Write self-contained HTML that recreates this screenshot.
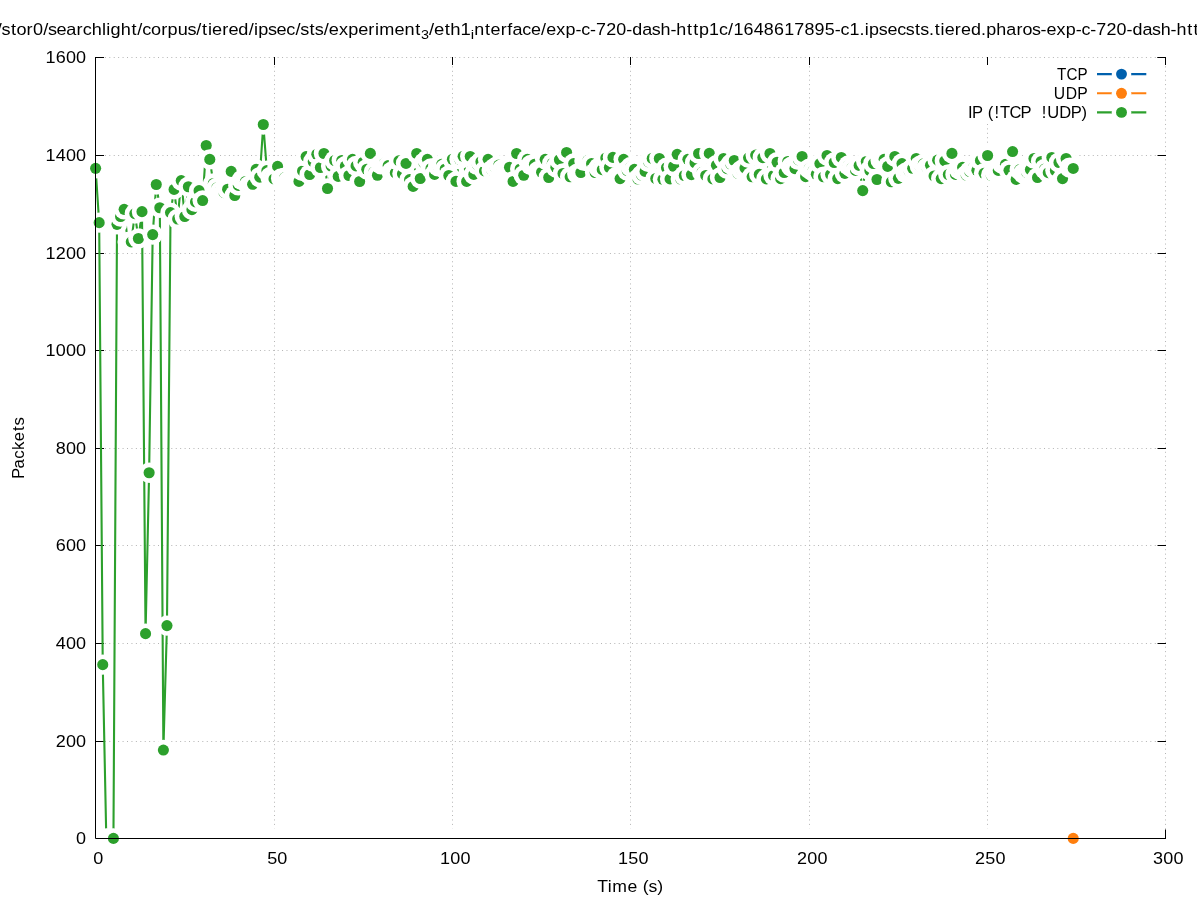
<!DOCTYPE html>
<html><head><meta charset="utf-8"><title>Packets over time</title>
<style>html,body{margin:0;padding:0;background:#fff}svg{display:block;will-change:transform}text{font-family:"Liberation Sans",sans-serif;white-space:pre}</style></head><body>
<svg width="1197" height="900" viewBox="0 0 1197 900">
<rect width="1197" height="900" fill="#fff"/>
<path d="M96 838.5H1165.5 M96 741.5H1165.5 M96 643.5H1165.5 M96 545.5H1165.5 M96 448.5H1165.5 M96 350.5H1165.5 M96 253.5H1165.5 M96 155.5H1165.5 M96 57.5H1165.5 M274.5 57.5V838 M452.5 57.5V838 M630.5 57.5V838 M809.5 57.5V838 M987.5 57.5V838 M1165.5 57.5V838" fill="none" stroke="#b4b4b4" stroke-width="1" stroke-dasharray="1 3.43"/>
<path d="M95 838.5H104 M1166 838.5H1157.5 M95 741.5H104 M1166 741.5H1157.5 M95 643.5H104 M1166 643.5H1157.5 M95 545.5H104 M1166 545.5H1157.5 M95 448.5H104 M1166 448.5H1157.5 M95 350.5H104 M1166 350.5H1157.5 M95 253.5H104 M1166 253.5H1157.5 M95 155.5H104 M1166 155.5H1157.5 M95 57.5H104 M1166 57.5H1157.5 M95.5 838.5V829.5 M95.5 57V65 M274.5 838.5V829.5 M274.5 57V65 M452.5 838.5V829.5 M452.5 57V65 M630.5 838.5V829.5 M630.5 57V65 M809.5 838.5V829.5 M809.5 57V65 M987.5 838.5V829.5 M987.5 57V65 M1165.5 838.5V829.5 M1165.5 57V65" fill="none" stroke="#000" stroke-width="1"/>
<g fill="#fff">
<circle cx="95.60" cy="838.40" r="10.2"/><circle cx="99.17" cy="838.40" r="10.2"/><circle cx="102.74" cy="838.40" r="10.2"/><circle cx="106.30" cy="838.40" r="10.2"/><circle cx="109.87" cy="838.40" r="10.2"/><circle cx="113.44" cy="838.40" r="10.2"/><circle cx="117.01" cy="838.40" r="10.2"/><circle cx="120.58" cy="838.40" r="10.2"/><circle cx="124.14" cy="838.40" r="10.2"/><circle cx="127.71" cy="838.40" r="10.2"/><circle cx="131.28" cy="838.40" r="10.2"/><circle cx="134.85" cy="838.40" r="10.2"/><circle cx="138.42" cy="838.40" r="10.2"/><circle cx="141.98" cy="838.40" r="10.2"/><circle cx="145.55" cy="838.40" r="10.2"/><circle cx="149.12" cy="838.40" r="10.2"/><circle cx="152.69" cy="838.40" r="10.2"/><circle cx="156.26" cy="838.40" r="10.2"/><circle cx="159.82" cy="838.40" r="10.2"/><circle cx="163.39" cy="838.40" r="10.2"/><circle cx="166.96" cy="838.40" r="10.2"/><circle cx="170.53" cy="838.40" r="10.2"/><circle cx="174.10" cy="838.40" r="10.2"/><circle cx="177.66" cy="838.40" r="10.2"/><circle cx="181.23" cy="838.40" r="10.2"/><circle cx="184.80" cy="838.40" r="10.2"/><circle cx="188.37" cy="838.40" r="10.2"/><circle cx="191.94" cy="838.40" r="10.2"/><circle cx="195.50" cy="838.40" r="10.2"/><circle cx="199.07" cy="838.40" r="10.2"/><circle cx="202.64" cy="838.40" r="10.2"/><circle cx="206.21" cy="838.40" r="10.2"/><circle cx="209.78" cy="838.40" r="10.2"/><circle cx="213.34" cy="838.40" r="10.2"/><circle cx="216.91" cy="838.40" r="10.2"/><circle cx="220.48" cy="838.40" r="10.2"/><circle cx="224.05" cy="838.40" r="10.2"/><circle cx="227.62" cy="838.40" r="10.2"/><circle cx="231.18" cy="838.40" r="10.2"/><circle cx="234.75" cy="838.40" r="10.2"/><circle cx="238.32" cy="838.40" r="10.2"/><circle cx="241.89" cy="838.40" r="10.2"/><circle cx="245.46" cy="838.40" r="10.2"/><circle cx="249.02" cy="838.40" r="10.2"/><circle cx="252.59" cy="838.40" r="10.2"/><circle cx="256.16" cy="838.40" r="10.2"/><circle cx="259.73" cy="838.40" r="10.2"/><circle cx="263.30" cy="838.40" r="10.2"/><circle cx="266.86" cy="838.40" r="10.2"/><circle cx="270.43" cy="838.40" r="10.2"/><circle cx="274.00" cy="838.40" r="10.2"/><circle cx="277.57" cy="838.40" r="10.2"/><circle cx="281.14" cy="838.40" r="10.2"/><circle cx="284.70" cy="838.40" r="10.2"/><circle cx="288.27" cy="838.40" r="10.2"/><circle cx="291.84" cy="838.40" r="10.2"/><circle cx="295.41" cy="838.40" r="10.2"/><circle cx="298.98" cy="838.40" r="10.2"/><circle cx="302.54" cy="838.40" r="10.2"/><circle cx="306.11" cy="838.40" r="10.2"/><circle cx="309.68" cy="838.40" r="10.2"/><circle cx="313.25" cy="838.40" r="10.2"/><circle cx="316.82" cy="838.40" r="10.2"/><circle cx="320.38" cy="838.40" r="10.2"/><circle cx="323.95" cy="838.40" r="10.2"/><circle cx="327.52" cy="838.40" r="10.2"/><circle cx="331.09" cy="838.40" r="10.2"/><circle cx="334.66" cy="838.40" r="10.2"/><circle cx="338.22" cy="838.40" r="10.2"/><circle cx="341.79" cy="838.40" r="10.2"/><circle cx="345.36" cy="838.40" r="10.2"/><circle cx="348.93" cy="838.40" r="10.2"/><circle cx="352.50" cy="838.40" r="10.2"/><circle cx="356.06" cy="838.40" r="10.2"/><circle cx="359.63" cy="838.40" r="10.2"/><circle cx="363.20" cy="838.40" r="10.2"/><circle cx="366.77" cy="838.40" r="10.2"/><circle cx="370.34" cy="838.40" r="10.2"/><circle cx="373.90" cy="838.40" r="10.2"/><circle cx="377.47" cy="838.40" r="10.2"/><circle cx="381.04" cy="838.40" r="10.2"/><circle cx="384.61" cy="838.40" r="10.2"/><circle cx="388.18" cy="838.40" r="10.2"/><circle cx="391.74" cy="838.40" r="10.2"/><circle cx="395.31" cy="838.40" r="10.2"/><circle cx="398.88" cy="838.40" r="10.2"/><circle cx="402.45" cy="838.40" r="10.2"/><circle cx="406.02" cy="838.40" r="10.2"/><circle cx="409.58" cy="838.40" r="10.2"/><circle cx="413.15" cy="838.40" r="10.2"/><circle cx="416.72" cy="838.40" r="10.2"/><circle cx="420.29" cy="838.40" r="10.2"/><circle cx="423.86" cy="838.40" r="10.2"/><circle cx="427.42" cy="838.40" r="10.2"/><circle cx="430.99" cy="838.40" r="10.2"/><circle cx="434.56" cy="838.40" r="10.2"/><circle cx="438.13" cy="838.40" r="10.2"/><circle cx="441.70" cy="838.40" r="10.2"/><circle cx="445.26" cy="838.40" r="10.2"/><circle cx="448.83" cy="838.40" r="10.2"/><circle cx="452.40" cy="838.40" r="10.2"/><circle cx="455.97" cy="838.40" r="10.2"/><circle cx="459.54" cy="838.40" r="10.2"/><circle cx="463.10" cy="838.40" r="10.2"/><circle cx="466.67" cy="838.40" r="10.2"/><circle cx="470.24" cy="838.40" r="10.2"/><circle cx="473.81" cy="838.40" r="10.2"/><circle cx="477.38" cy="838.40" r="10.2"/><circle cx="480.94" cy="838.40" r="10.2"/><circle cx="484.51" cy="838.40" r="10.2"/><circle cx="488.08" cy="838.40" r="10.2"/><circle cx="491.65" cy="838.40" r="10.2"/><circle cx="495.22" cy="838.40" r="10.2"/><circle cx="498.78" cy="838.40" r="10.2"/><circle cx="502.35" cy="838.40" r="10.2"/><circle cx="505.92" cy="838.40" r="10.2"/><circle cx="509.49" cy="838.40" r="10.2"/><circle cx="513.06" cy="838.40" r="10.2"/><circle cx="516.62" cy="838.40" r="10.2"/><circle cx="520.19" cy="838.40" r="10.2"/><circle cx="523.76" cy="838.40" r="10.2"/><circle cx="527.33" cy="838.40" r="10.2"/><circle cx="530.90" cy="838.40" r="10.2"/><circle cx="534.46" cy="838.40" r="10.2"/><circle cx="538.03" cy="838.40" r="10.2"/><circle cx="541.60" cy="838.40" r="10.2"/><circle cx="545.17" cy="838.40" r="10.2"/><circle cx="548.74" cy="838.40" r="10.2"/><circle cx="552.30" cy="838.40" r="10.2"/><circle cx="555.87" cy="838.40" r="10.2"/><circle cx="559.44" cy="838.40" r="10.2"/><circle cx="563.01" cy="838.40" r="10.2"/><circle cx="566.58" cy="838.40" r="10.2"/><circle cx="570.14" cy="838.40" r="10.2"/><circle cx="573.71" cy="838.40" r="10.2"/><circle cx="577.28" cy="838.40" r="10.2"/><circle cx="580.85" cy="838.40" r="10.2"/><circle cx="584.42" cy="838.40" r="10.2"/><circle cx="587.98" cy="838.40" r="10.2"/><circle cx="591.55" cy="838.40" r="10.2"/><circle cx="595.12" cy="838.40" r="10.2"/><circle cx="598.69" cy="838.40" r="10.2"/><circle cx="602.26" cy="838.40" r="10.2"/><circle cx="605.82" cy="838.40" r="10.2"/><circle cx="609.39" cy="838.40" r="10.2"/><circle cx="612.96" cy="838.40" r="10.2"/><circle cx="616.53" cy="838.40" r="10.2"/><circle cx="620.10" cy="838.40" r="10.2"/><circle cx="623.66" cy="838.40" r="10.2"/><circle cx="627.23" cy="838.40" r="10.2"/><circle cx="630.80" cy="838.40" r="10.2"/><circle cx="634.37" cy="838.40" r="10.2"/><circle cx="637.94" cy="838.40" r="10.2"/><circle cx="641.50" cy="838.40" r="10.2"/><circle cx="645.07" cy="838.40" r="10.2"/><circle cx="648.64" cy="838.40" r="10.2"/><circle cx="652.21" cy="838.40" r="10.2"/><circle cx="655.78" cy="838.40" r="10.2"/><circle cx="659.34" cy="838.40" r="10.2"/><circle cx="662.91" cy="838.40" r="10.2"/><circle cx="666.48" cy="838.40" r="10.2"/><circle cx="670.05" cy="838.40" r="10.2"/><circle cx="673.62" cy="838.40" r="10.2"/><circle cx="677.18" cy="838.40" r="10.2"/><circle cx="680.75" cy="838.40" r="10.2"/><circle cx="684.32" cy="838.40" r="10.2"/><circle cx="687.89" cy="838.40" r="10.2"/><circle cx="691.46" cy="838.40" r="10.2"/><circle cx="695.02" cy="838.40" r="10.2"/><circle cx="698.59" cy="838.40" r="10.2"/><circle cx="702.16" cy="838.40" r="10.2"/><circle cx="705.73" cy="838.40" r="10.2"/><circle cx="709.30" cy="838.40" r="10.2"/><circle cx="712.86" cy="838.40" r="10.2"/><circle cx="716.43" cy="838.40" r="10.2"/><circle cx="720.00" cy="838.40" r="10.2"/><circle cx="723.57" cy="838.40" r="10.2"/><circle cx="727.14" cy="838.40" r="10.2"/><circle cx="730.70" cy="838.40" r="10.2"/><circle cx="734.27" cy="838.40" r="10.2"/><circle cx="737.84" cy="838.40" r="10.2"/><circle cx="741.41" cy="838.40" r="10.2"/><circle cx="744.98" cy="838.40" r="10.2"/><circle cx="748.54" cy="838.40" r="10.2"/><circle cx="752.11" cy="838.40" r="10.2"/><circle cx="755.68" cy="838.40" r="10.2"/><circle cx="759.25" cy="838.40" r="10.2"/><circle cx="762.82" cy="838.40" r="10.2"/><circle cx="766.38" cy="838.40" r="10.2"/><circle cx="769.95" cy="838.40" r="10.2"/><circle cx="773.52" cy="838.40" r="10.2"/><circle cx="777.09" cy="838.40" r="10.2"/><circle cx="780.66" cy="838.40" r="10.2"/><circle cx="784.22" cy="838.40" r="10.2"/><circle cx="787.79" cy="838.40" r="10.2"/><circle cx="791.36" cy="838.40" r="10.2"/><circle cx="794.93" cy="838.40" r="10.2"/><circle cx="798.50" cy="838.40" r="10.2"/><circle cx="802.06" cy="838.40" r="10.2"/><circle cx="805.63" cy="838.40" r="10.2"/><circle cx="809.20" cy="838.40" r="10.2"/><circle cx="812.77" cy="838.40" r="10.2"/><circle cx="816.34" cy="838.40" r="10.2"/><circle cx="819.90" cy="838.40" r="10.2"/><circle cx="823.47" cy="838.40" r="10.2"/><circle cx="827.04" cy="838.40" r="10.2"/><circle cx="830.61" cy="838.40" r="10.2"/><circle cx="834.18" cy="838.40" r="10.2"/><circle cx="837.74" cy="838.40" r="10.2"/><circle cx="841.31" cy="838.40" r="10.2"/><circle cx="844.88" cy="838.40" r="10.2"/><circle cx="848.45" cy="838.40" r="10.2"/><circle cx="852.02" cy="838.40" r="10.2"/><circle cx="855.58" cy="838.40" r="10.2"/><circle cx="859.15" cy="838.40" r="10.2"/><circle cx="862.72" cy="838.40" r="10.2"/><circle cx="866.29" cy="838.40" r="10.2"/><circle cx="869.86" cy="838.40" r="10.2"/><circle cx="873.42" cy="838.40" r="10.2"/><circle cx="876.99" cy="838.40" r="10.2"/><circle cx="880.56" cy="838.40" r="10.2"/><circle cx="884.13" cy="838.40" r="10.2"/><circle cx="887.70" cy="838.40" r="10.2"/><circle cx="891.26" cy="838.40" r="10.2"/><circle cx="894.83" cy="838.40" r="10.2"/><circle cx="898.40" cy="838.40" r="10.2"/><circle cx="901.97" cy="838.40" r="10.2"/><circle cx="905.54" cy="838.40" r="10.2"/><circle cx="909.10" cy="838.40" r="10.2"/><circle cx="912.67" cy="838.40" r="10.2"/><circle cx="916.24" cy="838.40" r="10.2"/><circle cx="919.81" cy="838.40" r="10.2"/><circle cx="923.38" cy="838.40" r="10.2"/><circle cx="926.94" cy="838.40" r="10.2"/><circle cx="930.51" cy="838.40" r="10.2"/><circle cx="934.08" cy="838.40" r="10.2"/><circle cx="937.65" cy="838.40" r="10.2"/><circle cx="941.22" cy="838.40" r="10.2"/><circle cx="944.78" cy="838.40" r="10.2"/><circle cx="948.35" cy="838.40" r="10.2"/><circle cx="951.92" cy="838.40" r="10.2"/><circle cx="955.49" cy="838.40" r="10.2"/><circle cx="959.06" cy="838.40" r="10.2"/><circle cx="962.62" cy="838.40" r="10.2"/><circle cx="966.19" cy="838.40" r="10.2"/><circle cx="969.76" cy="838.40" r="10.2"/><circle cx="973.33" cy="838.40" r="10.2"/><circle cx="976.90" cy="838.40" r="10.2"/><circle cx="980.46" cy="838.40" r="10.2"/><circle cx="984.03" cy="838.40" r="10.2"/><circle cx="987.60" cy="838.40" r="10.2"/><circle cx="991.17" cy="838.40" r="10.2"/><circle cx="994.74" cy="838.40" r="10.2"/><circle cx="998.30" cy="838.40" r="10.2"/><circle cx="1001.87" cy="838.40" r="10.2"/><circle cx="1005.44" cy="838.40" r="10.2"/><circle cx="1009.01" cy="838.40" r="10.2"/><circle cx="1012.58" cy="838.40" r="10.2"/><circle cx="1016.14" cy="838.40" r="10.2"/><circle cx="1019.71" cy="838.40" r="10.2"/><circle cx="1023.28" cy="838.40" r="10.2"/><circle cx="1026.85" cy="838.40" r="10.2"/><circle cx="1030.42" cy="838.40" r="10.2"/><circle cx="1033.98" cy="838.40" r="10.2"/><circle cx="1037.55" cy="838.40" r="10.2"/><circle cx="1041.12" cy="838.40" r="10.2"/><circle cx="1044.69" cy="838.40" r="10.2"/><circle cx="1048.26" cy="838.40" r="10.2"/><circle cx="1051.82" cy="838.40" r="10.2"/><circle cx="1055.39" cy="838.40" r="10.2"/><circle cx="1058.96" cy="838.40" r="10.2"/><circle cx="1062.53" cy="838.40" r="10.2"/><circle cx="1066.10" cy="838.40" r="10.2"/><circle cx="1069.66" cy="838.40" r="10.2"/><circle cx="1073.23" cy="838.40" r="10.2"/>
</g>
<circle cx="1073.23" cy="838.40" r="5.55" fill="#ff7f0e"/>
<polyline points="95.60,168.35 99.17,222.63 102.74,664.63 106.30,838.40 109.87,838.40 113.44,838.40 117.01,224.34 120.58,216.53 124.14,209.35 127.71,241.91 131.28,241.91 134.85,213.60 138.42,238.49 141.98,211.65 145.55,633.63 149.12,472.79 152.69,234.59 156.26,184.46 159.82,207.74 163.39,750.05 166.96,625.58 170.53,212.62 174.10,189.39 177.66,218.97 181.23,180.60 184.80,216.53 188.37,186.75 191.94,209.70 195.50,201.88 199.07,190.66 202.64,200.57 206.21,145.51 209.78,159.42 213.34,183.48 216.91,187.73 220.48,191.15 224.05,192.61 227.62,189.19 231.18,171.38 234.75,195.54 238.32,185.39 241.89,180.07 245.46,181.48 249.02,185.78 252.59,184.31 256.16,169.38 259.73,177.19 263.30,124.47 266.86,170.64 270.43,176.99 274.00,178.94 277.57,166.40 281.14,178.47 284.70,177.59 288.27,181.06 291.84,181.81 295.41,181.64 298.98,181.43 302.54,170.95 306.11,156.62 309.68,174.54 313.25,161.76 316.82,154.24 320.38,167.52 323.95,153.53 327.52,188.49 331.09,166.07 334.66,160.51 338.22,176.38 341.79,160.46 345.36,166.10 348.93,175.54 352.50,159.37 356.06,165.94 359.63,181.47 363.20,162.26 366.77,169.28 370.34,153.40 373.90,171.95 377.47,175.26 381.04,164.26 384.61,163.10 388.18,165.63 391.74,171.78 395.31,172.87 398.88,160.92 402.45,173.87 406.02,163.43 409.58,179.67 413.15,186.45 416.72,153.52 420.29,178.47 423.86,162.76 427.42,159.37 430.99,168.44 434.56,174.42 438.13,166.35 441.70,164.38 445.26,168.98 448.83,175.49 452.40,159.25 455.97,181.39 459.54,159.34 463.10,156.33 466.67,181.44 470.24,156.45 473.81,174.42 477.38,164.93 480.94,161.76 484.51,170.95 488.08,159.37 491.65,170.11 495.22,167.44 498.78,165.10 502.35,169.19 505.92,168.02 509.49,167.27 513.06,181.44 516.62,153.52 520.19,168.94 523.76,175.26 527.33,159.37 530.90,164.93 534.46,164.38 538.03,171.28 541.60,172.28 545.17,159.37 548.74,177.51 552.30,163.35 555.87,167.27 559.44,159.72 563.01,173.54 566.58,152.44 570.14,176.80 573.71,163.55 577.28,173.71 580.85,172.50 584.42,160.92 587.98,160.34 591.55,163.55 595.12,172.50 598.69,167.77 602.26,169.70 605.82,158.00 609.39,167.49 612.96,157.41 616.53,176.80 620.10,178.60 623.66,159.37 627.23,170.53 630.80,166.85 634.37,169.39 637.94,178.97 641.50,175.13 645.07,171.42 648.64,161.93 652.21,158.42 655.78,178.47 659.34,158.53 662.91,179.30 666.48,167.77 670.05,178.88 673.62,166.24 677.18,154.36 680.75,179.05 684.32,175.54 687.89,159.37 691.46,174.59 695.02,162.73 698.59,153.53 702.16,172.20 705.73,175.46 709.30,153.40 712.86,178.88 716.43,165.23 720.00,177.51 723.57,158.53 727.14,168.69 730.70,164.18 734.27,160.46 737.84,173.33 741.41,170.11 744.98,168.07 748.54,157.83 752.11,176.80 755.68,155.08 759.25,174.41 762.82,157.58 766.38,178.88 769.95,153.52 773.52,175.54 777.09,162.26 780.66,178.60 784.22,172.50 787.79,161.46 791.36,166.77 794.93,168.58 798.50,159.92 802.06,156.45 805.63,176.68 809.20,168.69 812.77,171.37 816.34,174.29 819.90,163.56 823.47,176.80 827.04,155.44 830.61,174.46 834.18,162.48 837.74,178.60 841.31,157.45 844.88,173.34 848.45,165.35 852.02,167.69 855.58,170.41 859.15,165.43 862.72,190.58 866.29,161.46 869.86,170.58 873.42,163.56 876.99,179.47 880.56,160.09 884.13,159.37 887.70,166.40 891.26,181.81 894.83,156.45 898.40,178.35 901.97,163.55 905.54,172.95 909.10,170.95 912.67,168.32 916.24,158.53 919.81,166.02 923.38,163.85 926.94,167.61 930.51,165.23 934.08,176.04 937.65,160.17 941.22,178.60 944.78,160.81 948.35,174.46 951.92,153.40 955.49,174.42 959.06,169.28 962.62,167.31 966.19,175.13 969.76,171.53 973.33,167.77 976.90,170.36 980.46,160.39 984.03,173.32 987.60,155.49 991.17,175.29 994.74,172.12 998.30,170.41 1001.87,163.43 1005.44,164.38 1009.01,170.36 1012.58,151.57 1016.14,179.44 1019.71,169.70 1023.28,173.45 1026.85,172.54 1030.42,169.58 1033.98,158.53 1037.55,177.51 1041.12,161.46 1044.69,168.94 1048.26,172.70 1051.82,157.45 1055.39,170.58 1058.96,162.48 1062.53,178.60 1066.10,158.53 1069.66,167.61 1073.23,168.44" fill="none" stroke="#2ca02c" stroke-width="2.10" stroke-linejoin="round"/>
<circle cx="95.60" cy="168.35" r="10.2" fill="#fff"/>
<circle cx="95.60" cy="168.35" r="5.55" fill="#2ca02c"/>
<circle cx="99.17" cy="222.63" r="10.2" fill="#fff"/>
<circle cx="99.17" cy="222.63" r="5.55" fill="#2ca02c"/>
<circle cx="102.74" cy="664.63" r="10.2" fill="#fff"/>
<circle cx="102.74" cy="664.63" r="5.55" fill="#2ca02c"/>
<circle cx="106.30" cy="838.40" r="10.2" fill="#fff"/>
<circle cx="109.87" cy="838.40" r="10.2" fill="#fff"/>
<circle cx="113.44" cy="838.40" r="10.2" fill="#fff"/>
<circle cx="113.44" cy="838.40" r="5.55" fill="#2ca02c"/>
<circle cx="117.01" cy="224.34" r="10.2" fill="#fff"/>
<circle cx="117.01" cy="224.34" r="5.55" fill="#2ca02c"/>
<circle cx="120.58" cy="216.53" r="10.2" fill="#fff"/>
<circle cx="120.58" cy="216.53" r="5.55" fill="#2ca02c"/>
<circle cx="124.14" cy="209.35" r="10.2" fill="#fff"/>
<circle cx="124.14" cy="209.35" r="5.55" fill="#2ca02c"/>
<circle cx="127.71" cy="241.91" r="10.2" fill="#fff"/>
<circle cx="127.71" cy="241.91" r="5.55" fill="#2ca02c"/>
<circle cx="131.28" cy="241.91" r="10.2" fill="#fff"/>
<circle cx="131.28" cy="241.91" r="5.55" fill="#2ca02c"/>
<circle cx="134.85" cy="213.60" r="10.2" fill="#fff"/>
<circle cx="134.85" cy="213.60" r="5.55" fill="#2ca02c"/>
<circle cx="138.42" cy="238.49" r="10.2" fill="#fff"/>
<circle cx="138.42" cy="238.49" r="5.55" fill="#2ca02c"/>
<circle cx="141.98" cy="211.65" r="10.2" fill="#fff"/>
<circle cx="141.98" cy="211.65" r="5.55" fill="#2ca02c"/>
<circle cx="145.55" cy="633.63" r="10.2" fill="#fff"/>
<circle cx="145.55" cy="633.63" r="5.55" fill="#2ca02c"/>
<circle cx="149.12" cy="472.79" r="10.2" fill="#fff"/>
<circle cx="149.12" cy="472.79" r="5.55" fill="#2ca02c"/>
<circle cx="152.69" cy="234.59" r="10.2" fill="#fff"/>
<circle cx="152.69" cy="234.59" r="5.55" fill="#2ca02c"/>
<circle cx="156.26" cy="184.46" r="10.2" fill="#fff"/>
<circle cx="156.26" cy="184.46" r="5.55" fill="#2ca02c"/>
<circle cx="159.82" cy="207.74" r="10.2" fill="#fff"/>
<circle cx="159.82" cy="207.74" r="5.55" fill="#2ca02c"/>
<circle cx="163.39" cy="750.05" r="10.2" fill="#fff"/>
<circle cx="163.39" cy="750.05" r="5.55" fill="#2ca02c"/>
<circle cx="166.96" cy="625.58" r="10.2" fill="#fff"/>
<circle cx="166.96" cy="625.58" r="5.55" fill="#2ca02c"/>
<circle cx="170.53" cy="212.62" r="10.2" fill="#fff"/>
<circle cx="170.53" cy="212.62" r="5.55" fill="#2ca02c"/>
<circle cx="174.10" cy="189.39" r="10.2" fill="#fff"/>
<circle cx="174.10" cy="189.39" r="5.55" fill="#2ca02c"/>
<circle cx="177.66" cy="218.97" r="10.2" fill="#fff"/>
<circle cx="177.66" cy="218.97" r="5.55" fill="#2ca02c"/>
<circle cx="181.23" cy="180.60" r="10.2" fill="#fff"/>
<circle cx="181.23" cy="180.60" r="5.55" fill="#2ca02c"/>
<circle cx="184.80" cy="216.53" r="10.2" fill="#fff"/>
<circle cx="184.80" cy="216.53" r="5.55" fill="#2ca02c"/>
<circle cx="188.37" cy="186.75" r="10.2" fill="#fff"/>
<circle cx="188.37" cy="186.75" r="5.55" fill="#2ca02c"/>
<circle cx="191.94" cy="209.70" r="10.2" fill="#fff"/>
<circle cx="191.94" cy="209.70" r="5.55" fill="#2ca02c"/>
<circle cx="195.50" cy="201.88" r="10.2" fill="#fff"/>
<circle cx="195.50" cy="201.88" r="5.55" fill="#2ca02c"/>
<circle cx="199.07" cy="190.66" r="10.2" fill="#fff"/>
<circle cx="199.07" cy="190.66" r="5.55" fill="#2ca02c"/>
<circle cx="202.64" cy="200.57" r="10.2" fill="#fff"/>
<circle cx="202.64" cy="200.57" r="5.55" fill="#2ca02c"/>
<circle cx="206.21" cy="145.51" r="10.2" fill="#fff"/>
<circle cx="206.21" cy="145.51" r="5.55" fill="#2ca02c"/>
<circle cx="209.78" cy="159.42" r="10.2" fill="#fff"/>
<circle cx="209.78" cy="159.42" r="5.55" fill="#2ca02c"/>
<circle cx="213.34" cy="183.48" r="10.2" fill="#fff"/>
<circle cx="213.34" cy="183.48" r="5.55" fill="#2ca02c"/>
<circle cx="216.91" cy="187.73" r="10.2" fill="#fff"/>
<circle cx="216.91" cy="187.73" r="5.55" fill="#2ca02c"/>
<circle cx="220.48" cy="191.15" r="10.2" fill="#fff"/>
<circle cx="220.48" cy="191.15" r="5.55" fill="#2ca02c"/>
<circle cx="224.05" cy="192.61" r="10.2" fill="#fff"/>
<circle cx="224.05" cy="192.61" r="5.55" fill="#2ca02c"/>
<circle cx="227.62" cy="189.19" r="10.2" fill="#fff"/>
<circle cx="227.62" cy="189.19" r="5.55" fill="#2ca02c"/>
<circle cx="231.18" cy="171.38" r="10.2" fill="#fff"/>
<circle cx="231.18" cy="171.38" r="5.55" fill="#2ca02c"/>
<circle cx="234.75" cy="195.54" r="10.2" fill="#fff"/>
<circle cx="234.75" cy="195.54" r="5.55" fill="#2ca02c"/>
<circle cx="238.32" cy="185.39" r="10.2" fill="#fff"/>
<circle cx="238.32" cy="185.39" r="5.55" fill="#2ca02c"/>
<circle cx="241.89" cy="180.07" r="10.2" fill="#fff"/>
<circle cx="241.89" cy="180.07" r="5.55" fill="#2ca02c"/>
<circle cx="245.46" cy="181.48" r="10.2" fill="#fff"/>
<circle cx="245.46" cy="181.48" r="5.55" fill="#2ca02c"/>
<circle cx="249.02" cy="185.78" r="10.2" fill="#fff"/>
<circle cx="249.02" cy="185.78" r="5.55" fill="#2ca02c"/>
<circle cx="252.59" cy="184.31" r="10.2" fill="#fff"/>
<circle cx="252.59" cy="184.31" r="5.55" fill="#2ca02c"/>
<circle cx="256.16" cy="169.38" r="10.2" fill="#fff"/>
<circle cx="256.16" cy="169.38" r="5.55" fill="#2ca02c"/>
<circle cx="259.73" cy="177.19" r="10.2" fill="#fff"/>
<circle cx="259.73" cy="177.19" r="5.55" fill="#2ca02c"/>
<circle cx="263.30" cy="124.47" r="10.2" fill="#fff"/>
<circle cx="263.30" cy="124.47" r="5.55" fill="#2ca02c"/>
<circle cx="266.86" cy="170.64" r="10.2" fill="#fff"/>
<circle cx="266.86" cy="170.64" r="5.55" fill="#2ca02c"/>
<circle cx="270.43" cy="176.99" r="10.2" fill="#fff"/>
<circle cx="270.43" cy="176.99" r="5.55" fill="#2ca02c"/>
<circle cx="274.00" cy="178.94" r="10.2" fill="#fff"/>
<circle cx="274.00" cy="178.94" r="5.55" fill="#2ca02c"/>
<circle cx="277.57" cy="166.40" r="10.2" fill="#fff"/>
<circle cx="277.57" cy="166.40" r="5.55" fill="#2ca02c"/>
<circle cx="281.14" cy="178.47" r="10.2" fill="#fff"/>
<circle cx="281.14" cy="178.47" r="5.55" fill="#2ca02c"/>
<circle cx="284.70" cy="177.59" r="10.2" fill="#fff"/>
<circle cx="284.70" cy="177.59" r="5.55" fill="#2ca02c"/>
<circle cx="288.27" cy="181.06" r="10.2" fill="#fff"/>
<circle cx="288.27" cy="181.06" r="5.55" fill="#2ca02c"/>
<circle cx="291.84" cy="181.81" r="10.2" fill="#fff"/>
<circle cx="291.84" cy="181.81" r="5.55" fill="#2ca02c"/>
<circle cx="295.41" cy="181.64" r="10.2" fill="#fff"/>
<circle cx="295.41" cy="181.64" r="5.55" fill="#2ca02c"/>
<circle cx="298.98" cy="181.43" r="10.2" fill="#fff"/>
<circle cx="298.98" cy="181.43" r="5.55" fill="#2ca02c"/>
<circle cx="302.54" cy="170.95" r="10.2" fill="#fff"/>
<circle cx="302.54" cy="170.95" r="5.55" fill="#2ca02c"/>
<circle cx="306.11" cy="156.62" r="10.2" fill="#fff"/>
<circle cx="306.11" cy="156.62" r="5.55" fill="#2ca02c"/>
<circle cx="309.68" cy="174.54" r="10.2" fill="#fff"/>
<circle cx="309.68" cy="174.54" r="5.55" fill="#2ca02c"/>
<circle cx="313.25" cy="161.76" r="10.2" fill="#fff"/>
<circle cx="313.25" cy="161.76" r="5.55" fill="#2ca02c"/>
<circle cx="316.82" cy="154.24" r="10.2" fill="#fff"/>
<circle cx="316.82" cy="154.24" r="5.55" fill="#2ca02c"/>
<circle cx="320.38" cy="167.52" r="10.2" fill="#fff"/>
<circle cx="320.38" cy="167.52" r="5.55" fill="#2ca02c"/>
<circle cx="323.95" cy="153.53" r="10.2" fill="#fff"/>
<circle cx="323.95" cy="153.53" r="5.55" fill="#2ca02c"/>
<circle cx="327.52" cy="188.49" r="10.2" fill="#fff"/>
<circle cx="327.52" cy="188.49" r="5.55" fill="#2ca02c"/>
<circle cx="331.09" cy="166.07" r="10.2" fill="#fff"/>
<circle cx="331.09" cy="166.07" r="5.55" fill="#2ca02c"/>
<circle cx="334.66" cy="160.51" r="10.2" fill="#fff"/>
<circle cx="334.66" cy="160.51" r="5.55" fill="#2ca02c"/>
<circle cx="338.22" cy="176.38" r="10.2" fill="#fff"/>
<circle cx="338.22" cy="176.38" r="5.55" fill="#2ca02c"/>
<circle cx="341.79" cy="160.46" r="10.2" fill="#fff"/>
<circle cx="341.79" cy="160.46" r="5.55" fill="#2ca02c"/>
<circle cx="345.36" cy="166.10" r="10.2" fill="#fff"/>
<circle cx="345.36" cy="166.10" r="5.55" fill="#2ca02c"/>
<circle cx="348.93" cy="175.54" r="10.2" fill="#fff"/>
<circle cx="348.93" cy="175.54" r="5.55" fill="#2ca02c"/>
<circle cx="352.50" cy="159.37" r="10.2" fill="#fff"/>
<circle cx="352.50" cy="159.37" r="5.55" fill="#2ca02c"/>
<circle cx="356.06" cy="165.94" r="10.2" fill="#fff"/>
<circle cx="356.06" cy="165.94" r="5.55" fill="#2ca02c"/>
<circle cx="359.63" cy="181.47" r="10.2" fill="#fff"/>
<circle cx="359.63" cy="181.47" r="5.55" fill="#2ca02c"/>
<circle cx="363.20" cy="162.26" r="10.2" fill="#fff"/>
<circle cx="363.20" cy="162.26" r="5.55" fill="#2ca02c"/>
<circle cx="366.77" cy="169.28" r="10.2" fill="#fff"/>
<circle cx="366.77" cy="169.28" r="5.55" fill="#2ca02c"/>
<circle cx="370.34" cy="153.40" r="10.2" fill="#fff"/>
<circle cx="370.34" cy="153.40" r="5.55" fill="#2ca02c"/>
<circle cx="373.90" cy="171.95" r="10.2" fill="#fff"/>
<circle cx="373.90" cy="171.95" r="5.55" fill="#2ca02c"/>
<circle cx="377.47" cy="175.26" r="10.2" fill="#fff"/>
<circle cx="377.47" cy="175.26" r="5.55" fill="#2ca02c"/>
<circle cx="381.04" cy="164.26" r="10.2" fill="#fff"/>
<circle cx="381.04" cy="164.26" r="5.55" fill="#2ca02c"/>
<circle cx="384.61" cy="163.10" r="10.2" fill="#fff"/>
<circle cx="384.61" cy="163.10" r="5.55" fill="#2ca02c"/>
<circle cx="388.18" cy="165.63" r="10.2" fill="#fff"/>
<circle cx="388.18" cy="165.63" r="5.55" fill="#2ca02c"/>
<circle cx="391.74" cy="171.78" r="10.2" fill="#fff"/>
<circle cx="391.74" cy="171.78" r="5.55" fill="#2ca02c"/>
<circle cx="395.31" cy="172.87" r="10.2" fill="#fff"/>
<circle cx="395.31" cy="172.87" r="5.55" fill="#2ca02c"/>
<circle cx="398.88" cy="160.92" r="10.2" fill="#fff"/>
<circle cx="398.88" cy="160.92" r="5.55" fill="#2ca02c"/>
<circle cx="402.45" cy="173.87" r="10.2" fill="#fff"/>
<circle cx="402.45" cy="173.87" r="5.55" fill="#2ca02c"/>
<circle cx="406.02" cy="163.43" r="10.2" fill="#fff"/>
<circle cx="406.02" cy="163.43" r="5.55" fill="#2ca02c"/>
<circle cx="409.58" cy="179.67" r="10.2" fill="#fff"/>
<circle cx="409.58" cy="179.67" r="5.55" fill="#2ca02c"/>
<circle cx="413.15" cy="186.45" r="10.2" fill="#fff"/>
<circle cx="413.15" cy="186.45" r="5.55" fill="#2ca02c"/>
<circle cx="416.72" cy="153.52" r="10.2" fill="#fff"/>
<circle cx="416.72" cy="153.52" r="5.55" fill="#2ca02c"/>
<circle cx="420.29" cy="178.47" r="10.2" fill="#fff"/>
<circle cx="420.29" cy="178.47" r="5.55" fill="#2ca02c"/>
<circle cx="423.86" cy="162.76" r="10.2" fill="#fff"/>
<circle cx="423.86" cy="162.76" r="5.55" fill="#2ca02c"/>
<circle cx="427.42" cy="159.37" r="10.2" fill="#fff"/>
<circle cx="427.42" cy="159.37" r="5.55" fill="#2ca02c"/>
<circle cx="430.99" cy="168.44" r="10.2" fill="#fff"/>
<circle cx="430.99" cy="168.44" r="5.55" fill="#2ca02c"/>
<circle cx="434.56" cy="174.42" r="10.2" fill="#fff"/>
<circle cx="434.56" cy="174.42" r="5.55" fill="#2ca02c"/>
<circle cx="438.13" cy="166.35" r="10.2" fill="#fff"/>
<circle cx="438.13" cy="166.35" r="5.55" fill="#2ca02c"/>
<circle cx="441.70" cy="164.38" r="10.2" fill="#fff"/>
<circle cx="441.70" cy="164.38" r="5.55" fill="#2ca02c"/>
<circle cx="445.26" cy="168.98" r="10.2" fill="#fff"/>
<circle cx="445.26" cy="168.98" r="5.55" fill="#2ca02c"/>
<circle cx="448.83" cy="175.49" r="10.2" fill="#fff"/>
<circle cx="448.83" cy="175.49" r="5.55" fill="#2ca02c"/>
<circle cx="452.40" cy="159.25" r="10.2" fill="#fff"/>
<circle cx="452.40" cy="159.25" r="5.55" fill="#2ca02c"/>
<circle cx="455.97" cy="181.39" r="10.2" fill="#fff"/>
<circle cx="455.97" cy="181.39" r="5.55" fill="#2ca02c"/>
<circle cx="459.54" cy="159.34" r="10.2" fill="#fff"/>
<circle cx="459.54" cy="159.34" r="5.55" fill="#2ca02c"/>
<circle cx="463.10" cy="156.33" r="10.2" fill="#fff"/>
<circle cx="463.10" cy="156.33" r="5.55" fill="#2ca02c"/>
<circle cx="466.67" cy="181.44" r="10.2" fill="#fff"/>
<circle cx="466.67" cy="181.44" r="5.55" fill="#2ca02c"/>
<circle cx="470.24" cy="156.45" r="10.2" fill="#fff"/>
<circle cx="470.24" cy="156.45" r="5.55" fill="#2ca02c"/>
<circle cx="473.81" cy="174.42" r="10.2" fill="#fff"/>
<circle cx="473.81" cy="174.42" r="5.55" fill="#2ca02c"/>
<circle cx="477.38" cy="164.93" r="10.2" fill="#fff"/>
<circle cx="477.38" cy="164.93" r="5.55" fill="#2ca02c"/>
<circle cx="480.94" cy="161.76" r="10.2" fill="#fff"/>
<circle cx="480.94" cy="161.76" r="5.55" fill="#2ca02c"/>
<circle cx="484.51" cy="170.95" r="10.2" fill="#fff"/>
<circle cx="484.51" cy="170.95" r="5.55" fill="#2ca02c"/>
<circle cx="488.08" cy="159.37" r="10.2" fill="#fff"/>
<circle cx="488.08" cy="159.37" r="5.55" fill="#2ca02c"/>
<circle cx="491.65" cy="170.11" r="10.2" fill="#fff"/>
<circle cx="491.65" cy="170.11" r="5.55" fill="#2ca02c"/>
<circle cx="495.22" cy="167.44" r="10.2" fill="#fff"/>
<circle cx="495.22" cy="167.44" r="5.55" fill="#2ca02c"/>
<circle cx="498.78" cy="165.10" r="10.2" fill="#fff"/>
<circle cx="498.78" cy="165.10" r="5.55" fill="#2ca02c"/>
<circle cx="502.35" cy="169.19" r="10.2" fill="#fff"/>
<circle cx="502.35" cy="169.19" r="5.55" fill="#2ca02c"/>
<circle cx="505.92" cy="168.02" r="10.2" fill="#fff"/>
<circle cx="505.92" cy="168.02" r="5.55" fill="#2ca02c"/>
<circle cx="509.49" cy="167.27" r="10.2" fill="#fff"/>
<circle cx="509.49" cy="167.27" r="5.55" fill="#2ca02c"/>
<circle cx="513.06" cy="181.44" r="10.2" fill="#fff"/>
<circle cx="513.06" cy="181.44" r="5.55" fill="#2ca02c"/>
<circle cx="516.62" cy="153.52" r="10.2" fill="#fff"/>
<circle cx="516.62" cy="153.52" r="5.55" fill="#2ca02c"/>
<circle cx="520.19" cy="168.94" r="10.2" fill="#fff"/>
<circle cx="520.19" cy="168.94" r="5.55" fill="#2ca02c"/>
<circle cx="523.76" cy="175.26" r="10.2" fill="#fff"/>
<circle cx="523.76" cy="175.26" r="5.55" fill="#2ca02c"/>
<circle cx="527.33" cy="159.37" r="10.2" fill="#fff"/>
<circle cx="527.33" cy="159.37" r="5.55" fill="#2ca02c"/>
<circle cx="530.90" cy="164.93" r="10.2" fill="#fff"/>
<circle cx="530.90" cy="164.93" r="5.55" fill="#2ca02c"/>
<circle cx="534.46" cy="164.38" r="10.2" fill="#fff"/>
<circle cx="534.46" cy="164.38" r="5.55" fill="#2ca02c"/>
<circle cx="538.03" cy="171.28" r="10.2" fill="#fff"/>
<circle cx="538.03" cy="171.28" r="5.55" fill="#2ca02c"/>
<circle cx="541.60" cy="172.28" r="10.2" fill="#fff"/>
<circle cx="541.60" cy="172.28" r="5.55" fill="#2ca02c"/>
<circle cx="545.17" cy="159.37" r="10.2" fill="#fff"/>
<circle cx="545.17" cy="159.37" r="5.55" fill="#2ca02c"/>
<circle cx="548.74" cy="177.51" r="10.2" fill="#fff"/>
<circle cx="548.74" cy="177.51" r="5.55" fill="#2ca02c"/>
<circle cx="552.30" cy="163.35" r="10.2" fill="#fff"/>
<circle cx="552.30" cy="163.35" r="5.55" fill="#2ca02c"/>
<circle cx="555.87" cy="167.27" r="10.2" fill="#fff"/>
<circle cx="555.87" cy="167.27" r="5.55" fill="#2ca02c"/>
<circle cx="559.44" cy="159.72" r="10.2" fill="#fff"/>
<circle cx="559.44" cy="159.72" r="5.55" fill="#2ca02c"/>
<circle cx="563.01" cy="173.54" r="10.2" fill="#fff"/>
<circle cx="563.01" cy="173.54" r="5.55" fill="#2ca02c"/>
<circle cx="566.58" cy="152.44" r="10.2" fill="#fff"/>
<circle cx="566.58" cy="152.44" r="5.55" fill="#2ca02c"/>
<circle cx="570.14" cy="176.80" r="10.2" fill="#fff"/>
<circle cx="570.14" cy="176.80" r="5.55" fill="#2ca02c"/>
<circle cx="573.71" cy="163.55" r="10.2" fill="#fff"/>
<circle cx="573.71" cy="163.55" r="5.55" fill="#2ca02c"/>
<circle cx="577.28" cy="173.71" r="10.2" fill="#fff"/>
<circle cx="577.28" cy="173.71" r="5.55" fill="#2ca02c"/>
<circle cx="580.85" cy="172.50" r="10.2" fill="#fff"/>
<circle cx="580.85" cy="172.50" r="5.55" fill="#2ca02c"/>
<circle cx="584.42" cy="160.92" r="10.2" fill="#fff"/>
<circle cx="584.42" cy="160.92" r="5.55" fill="#2ca02c"/>
<circle cx="587.98" cy="160.34" r="10.2" fill="#fff"/>
<circle cx="587.98" cy="160.34" r="5.55" fill="#2ca02c"/>
<circle cx="591.55" cy="163.55" r="10.2" fill="#fff"/>
<circle cx="591.55" cy="163.55" r="5.55" fill="#2ca02c"/>
<circle cx="595.12" cy="172.50" r="10.2" fill="#fff"/>
<circle cx="595.12" cy="172.50" r="5.55" fill="#2ca02c"/>
<circle cx="598.69" cy="167.77" r="10.2" fill="#fff"/>
<circle cx="598.69" cy="167.77" r="5.55" fill="#2ca02c"/>
<circle cx="602.26" cy="169.70" r="10.2" fill="#fff"/>
<circle cx="602.26" cy="169.70" r="5.55" fill="#2ca02c"/>
<circle cx="605.82" cy="158.00" r="10.2" fill="#fff"/>
<circle cx="605.82" cy="158.00" r="5.55" fill="#2ca02c"/>
<circle cx="609.39" cy="167.49" r="10.2" fill="#fff"/>
<circle cx="609.39" cy="167.49" r="5.55" fill="#2ca02c"/>
<circle cx="612.96" cy="157.41" r="10.2" fill="#fff"/>
<circle cx="612.96" cy="157.41" r="5.55" fill="#2ca02c"/>
<circle cx="616.53" cy="176.80" r="10.2" fill="#fff"/>
<circle cx="616.53" cy="176.80" r="5.55" fill="#2ca02c"/>
<circle cx="620.10" cy="178.60" r="10.2" fill="#fff"/>
<circle cx="620.10" cy="178.60" r="5.55" fill="#2ca02c"/>
<circle cx="623.66" cy="159.37" r="10.2" fill="#fff"/>
<circle cx="623.66" cy="159.37" r="5.55" fill="#2ca02c"/>
<circle cx="627.23" cy="170.53" r="10.2" fill="#fff"/>
<circle cx="627.23" cy="170.53" r="5.55" fill="#2ca02c"/>
<circle cx="630.80" cy="166.85" r="10.2" fill="#fff"/>
<circle cx="630.80" cy="166.85" r="5.55" fill="#2ca02c"/>
<circle cx="634.37" cy="169.39" r="10.2" fill="#fff"/>
<circle cx="634.37" cy="169.39" r="5.55" fill="#2ca02c"/>
<circle cx="637.94" cy="178.97" r="10.2" fill="#fff"/>
<circle cx="637.94" cy="178.97" r="5.55" fill="#2ca02c"/>
<circle cx="641.50" cy="175.13" r="10.2" fill="#fff"/>
<circle cx="641.50" cy="175.13" r="5.55" fill="#2ca02c"/>
<circle cx="645.07" cy="171.42" r="10.2" fill="#fff"/>
<circle cx="645.07" cy="171.42" r="5.55" fill="#2ca02c"/>
<circle cx="648.64" cy="161.93" r="10.2" fill="#fff"/>
<circle cx="648.64" cy="161.93" r="5.55" fill="#2ca02c"/>
<circle cx="652.21" cy="158.42" r="10.2" fill="#fff"/>
<circle cx="652.21" cy="158.42" r="5.55" fill="#2ca02c"/>
<circle cx="655.78" cy="178.47" r="10.2" fill="#fff"/>
<circle cx="655.78" cy="178.47" r="5.55" fill="#2ca02c"/>
<circle cx="659.34" cy="158.53" r="10.2" fill="#fff"/>
<circle cx="659.34" cy="158.53" r="5.55" fill="#2ca02c"/>
<circle cx="662.91" cy="179.30" r="10.2" fill="#fff"/>
<circle cx="662.91" cy="179.30" r="5.55" fill="#2ca02c"/>
<circle cx="666.48" cy="167.77" r="10.2" fill="#fff"/>
<circle cx="666.48" cy="167.77" r="5.55" fill="#2ca02c"/>
<circle cx="670.05" cy="178.88" r="10.2" fill="#fff"/>
<circle cx="670.05" cy="178.88" r="5.55" fill="#2ca02c"/>
<circle cx="673.62" cy="166.24" r="10.2" fill="#fff"/>
<circle cx="673.62" cy="166.24" r="5.55" fill="#2ca02c"/>
<circle cx="677.18" cy="154.36" r="10.2" fill="#fff"/>
<circle cx="677.18" cy="154.36" r="5.55" fill="#2ca02c"/>
<circle cx="680.75" cy="179.05" r="10.2" fill="#fff"/>
<circle cx="680.75" cy="179.05" r="5.55" fill="#2ca02c"/>
<circle cx="684.32" cy="175.54" r="10.2" fill="#fff"/>
<circle cx="684.32" cy="175.54" r="5.55" fill="#2ca02c"/>
<circle cx="687.89" cy="159.37" r="10.2" fill="#fff"/>
<circle cx="687.89" cy="159.37" r="5.55" fill="#2ca02c"/>
<circle cx="691.46" cy="174.59" r="10.2" fill="#fff"/>
<circle cx="691.46" cy="174.59" r="5.55" fill="#2ca02c"/>
<circle cx="695.02" cy="162.73" r="10.2" fill="#fff"/>
<circle cx="695.02" cy="162.73" r="5.55" fill="#2ca02c"/>
<circle cx="698.59" cy="153.53" r="10.2" fill="#fff"/>
<circle cx="698.59" cy="153.53" r="5.55" fill="#2ca02c"/>
<circle cx="702.16" cy="172.20" r="10.2" fill="#fff"/>
<circle cx="702.16" cy="172.20" r="5.55" fill="#2ca02c"/>
<circle cx="705.73" cy="175.46" r="10.2" fill="#fff"/>
<circle cx="705.73" cy="175.46" r="5.55" fill="#2ca02c"/>
<circle cx="709.30" cy="153.40" r="10.2" fill="#fff"/>
<circle cx="709.30" cy="153.40" r="5.55" fill="#2ca02c"/>
<circle cx="712.86" cy="178.88" r="10.2" fill="#fff"/>
<circle cx="712.86" cy="178.88" r="5.55" fill="#2ca02c"/>
<circle cx="716.43" cy="165.23" r="10.2" fill="#fff"/>
<circle cx="716.43" cy="165.23" r="5.55" fill="#2ca02c"/>
<circle cx="720.00" cy="177.51" r="10.2" fill="#fff"/>
<circle cx="720.00" cy="177.51" r="5.55" fill="#2ca02c"/>
<circle cx="723.57" cy="158.53" r="10.2" fill="#fff"/>
<circle cx="723.57" cy="158.53" r="5.55" fill="#2ca02c"/>
<circle cx="727.14" cy="168.69" r="10.2" fill="#fff"/>
<circle cx="727.14" cy="168.69" r="5.55" fill="#2ca02c"/>
<circle cx="730.70" cy="164.18" r="10.2" fill="#fff"/>
<circle cx="730.70" cy="164.18" r="5.55" fill="#2ca02c"/>
<circle cx="734.27" cy="160.46" r="10.2" fill="#fff"/>
<circle cx="734.27" cy="160.46" r="5.55" fill="#2ca02c"/>
<circle cx="737.84" cy="173.33" r="10.2" fill="#fff"/>
<circle cx="737.84" cy="173.33" r="5.55" fill="#2ca02c"/>
<circle cx="741.41" cy="170.11" r="10.2" fill="#fff"/>
<circle cx="741.41" cy="170.11" r="5.55" fill="#2ca02c"/>
<circle cx="744.98" cy="168.07" r="10.2" fill="#fff"/>
<circle cx="744.98" cy="168.07" r="5.55" fill="#2ca02c"/>
<circle cx="748.54" cy="157.83" r="10.2" fill="#fff"/>
<circle cx="748.54" cy="157.83" r="5.55" fill="#2ca02c"/>
<circle cx="752.11" cy="176.80" r="10.2" fill="#fff"/>
<circle cx="752.11" cy="176.80" r="5.55" fill="#2ca02c"/>
<circle cx="755.68" cy="155.08" r="10.2" fill="#fff"/>
<circle cx="755.68" cy="155.08" r="5.55" fill="#2ca02c"/>
<circle cx="759.25" cy="174.41" r="10.2" fill="#fff"/>
<circle cx="759.25" cy="174.41" r="5.55" fill="#2ca02c"/>
<circle cx="762.82" cy="157.58" r="10.2" fill="#fff"/>
<circle cx="762.82" cy="157.58" r="5.55" fill="#2ca02c"/>
<circle cx="766.38" cy="178.88" r="10.2" fill="#fff"/>
<circle cx="766.38" cy="178.88" r="5.55" fill="#2ca02c"/>
<circle cx="769.95" cy="153.52" r="10.2" fill="#fff"/>
<circle cx="769.95" cy="153.52" r="5.55" fill="#2ca02c"/>
<circle cx="773.52" cy="175.54" r="10.2" fill="#fff"/>
<circle cx="773.52" cy="175.54" r="5.55" fill="#2ca02c"/>
<circle cx="777.09" cy="162.26" r="10.2" fill="#fff"/>
<circle cx="777.09" cy="162.26" r="5.55" fill="#2ca02c"/>
<circle cx="780.66" cy="178.60" r="10.2" fill="#fff"/>
<circle cx="780.66" cy="178.60" r="5.55" fill="#2ca02c"/>
<circle cx="784.22" cy="172.50" r="10.2" fill="#fff"/>
<circle cx="784.22" cy="172.50" r="5.55" fill="#2ca02c"/>
<circle cx="787.79" cy="161.46" r="10.2" fill="#fff"/>
<circle cx="787.79" cy="161.46" r="5.55" fill="#2ca02c"/>
<circle cx="791.36" cy="166.77" r="10.2" fill="#fff"/>
<circle cx="791.36" cy="166.77" r="5.55" fill="#2ca02c"/>
<circle cx="794.93" cy="168.58" r="10.2" fill="#fff"/>
<circle cx="794.93" cy="168.58" r="5.55" fill="#2ca02c"/>
<circle cx="798.50" cy="159.92" r="10.2" fill="#fff"/>
<circle cx="798.50" cy="159.92" r="5.55" fill="#2ca02c"/>
<circle cx="802.06" cy="156.45" r="10.2" fill="#fff"/>
<circle cx="802.06" cy="156.45" r="5.55" fill="#2ca02c"/>
<circle cx="805.63" cy="176.68" r="10.2" fill="#fff"/>
<circle cx="805.63" cy="176.68" r="5.55" fill="#2ca02c"/>
<circle cx="809.20" cy="168.69" r="10.2" fill="#fff"/>
<circle cx="809.20" cy="168.69" r="5.55" fill="#2ca02c"/>
<circle cx="812.77" cy="171.37" r="10.2" fill="#fff"/>
<circle cx="812.77" cy="171.37" r="5.55" fill="#2ca02c"/>
<circle cx="816.34" cy="174.29" r="10.2" fill="#fff"/>
<circle cx="816.34" cy="174.29" r="5.55" fill="#2ca02c"/>
<circle cx="819.90" cy="163.56" r="10.2" fill="#fff"/>
<circle cx="819.90" cy="163.56" r="5.55" fill="#2ca02c"/>
<circle cx="823.47" cy="176.80" r="10.2" fill="#fff"/>
<circle cx="823.47" cy="176.80" r="5.55" fill="#2ca02c"/>
<circle cx="827.04" cy="155.44" r="10.2" fill="#fff"/>
<circle cx="827.04" cy="155.44" r="5.55" fill="#2ca02c"/>
<circle cx="830.61" cy="174.46" r="10.2" fill="#fff"/>
<circle cx="830.61" cy="174.46" r="5.55" fill="#2ca02c"/>
<circle cx="834.18" cy="162.48" r="10.2" fill="#fff"/>
<circle cx="834.18" cy="162.48" r="5.55" fill="#2ca02c"/>
<circle cx="837.74" cy="178.60" r="10.2" fill="#fff"/>
<circle cx="837.74" cy="178.60" r="5.55" fill="#2ca02c"/>
<circle cx="841.31" cy="157.45" r="10.2" fill="#fff"/>
<circle cx="841.31" cy="157.45" r="5.55" fill="#2ca02c"/>
<circle cx="844.88" cy="173.34" r="10.2" fill="#fff"/>
<circle cx="844.88" cy="173.34" r="5.55" fill="#2ca02c"/>
<circle cx="848.45" cy="165.35" r="10.2" fill="#fff"/>
<circle cx="848.45" cy="165.35" r="5.55" fill="#2ca02c"/>
<circle cx="852.02" cy="167.69" r="10.2" fill="#fff"/>
<circle cx="852.02" cy="167.69" r="5.55" fill="#2ca02c"/>
<circle cx="855.58" cy="170.41" r="10.2" fill="#fff"/>
<circle cx="855.58" cy="170.41" r="5.55" fill="#2ca02c"/>
<circle cx="859.15" cy="165.43" r="10.2" fill="#fff"/>
<circle cx="859.15" cy="165.43" r="5.55" fill="#2ca02c"/>
<circle cx="862.72" cy="190.58" r="10.2" fill="#fff"/>
<circle cx="862.72" cy="190.58" r="5.55" fill="#2ca02c"/>
<circle cx="866.29" cy="161.46" r="10.2" fill="#fff"/>
<circle cx="866.29" cy="161.46" r="5.55" fill="#2ca02c"/>
<circle cx="869.86" cy="170.58" r="10.2" fill="#fff"/>
<circle cx="869.86" cy="170.58" r="5.55" fill="#2ca02c"/>
<circle cx="873.42" cy="163.56" r="10.2" fill="#fff"/>
<circle cx="873.42" cy="163.56" r="5.55" fill="#2ca02c"/>
<circle cx="876.99" cy="179.47" r="10.2" fill="#fff"/>
<circle cx="876.99" cy="179.47" r="5.55" fill="#2ca02c"/>
<circle cx="880.56" cy="160.09" r="10.2" fill="#fff"/>
<circle cx="880.56" cy="160.09" r="5.55" fill="#2ca02c"/>
<circle cx="884.13" cy="159.37" r="10.2" fill="#fff"/>
<circle cx="884.13" cy="159.37" r="5.55" fill="#2ca02c"/>
<circle cx="887.70" cy="166.40" r="10.2" fill="#fff"/>
<circle cx="887.70" cy="166.40" r="5.55" fill="#2ca02c"/>
<circle cx="891.26" cy="181.81" r="10.2" fill="#fff"/>
<circle cx="891.26" cy="181.81" r="5.55" fill="#2ca02c"/>
<circle cx="894.83" cy="156.45" r="10.2" fill="#fff"/>
<circle cx="894.83" cy="156.45" r="5.55" fill="#2ca02c"/>
<circle cx="898.40" cy="178.35" r="10.2" fill="#fff"/>
<circle cx="898.40" cy="178.35" r="5.55" fill="#2ca02c"/>
<circle cx="901.97" cy="163.55" r="10.2" fill="#fff"/>
<circle cx="901.97" cy="163.55" r="5.55" fill="#2ca02c"/>
<circle cx="905.54" cy="172.95" r="10.2" fill="#fff"/>
<circle cx="905.54" cy="172.95" r="5.55" fill="#2ca02c"/>
<circle cx="909.10" cy="170.95" r="10.2" fill="#fff"/>
<circle cx="909.10" cy="170.95" r="5.55" fill="#2ca02c"/>
<circle cx="912.67" cy="168.32" r="10.2" fill="#fff"/>
<circle cx="912.67" cy="168.32" r="5.55" fill="#2ca02c"/>
<circle cx="916.24" cy="158.53" r="10.2" fill="#fff"/>
<circle cx="916.24" cy="158.53" r="5.55" fill="#2ca02c"/>
<circle cx="919.81" cy="166.02" r="10.2" fill="#fff"/>
<circle cx="919.81" cy="166.02" r="5.55" fill="#2ca02c"/>
<circle cx="923.38" cy="163.85" r="10.2" fill="#fff"/>
<circle cx="923.38" cy="163.85" r="5.55" fill="#2ca02c"/>
<circle cx="926.94" cy="167.61" r="10.2" fill="#fff"/>
<circle cx="926.94" cy="167.61" r="5.55" fill="#2ca02c"/>
<circle cx="930.51" cy="165.23" r="10.2" fill="#fff"/>
<circle cx="930.51" cy="165.23" r="5.55" fill="#2ca02c"/>
<circle cx="934.08" cy="176.04" r="10.2" fill="#fff"/>
<circle cx="934.08" cy="176.04" r="5.55" fill="#2ca02c"/>
<circle cx="937.65" cy="160.17" r="10.2" fill="#fff"/>
<circle cx="937.65" cy="160.17" r="5.55" fill="#2ca02c"/>
<circle cx="941.22" cy="178.60" r="10.2" fill="#fff"/>
<circle cx="941.22" cy="178.60" r="5.55" fill="#2ca02c"/>
<circle cx="944.78" cy="160.81" r="10.2" fill="#fff"/>
<circle cx="944.78" cy="160.81" r="5.55" fill="#2ca02c"/>
<circle cx="948.35" cy="174.46" r="10.2" fill="#fff"/>
<circle cx="948.35" cy="174.46" r="5.55" fill="#2ca02c"/>
<circle cx="951.92" cy="153.40" r="10.2" fill="#fff"/>
<circle cx="951.92" cy="153.40" r="5.55" fill="#2ca02c"/>
<circle cx="955.49" cy="174.42" r="10.2" fill="#fff"/>
<circle cx="955.49" cy="174.42" r="5.55" fill="#2ca02c"/>
<circle cx="959.06" cy="169.28" r="10.2" fill="#fff"/>
<circle cx="959.06" cy="169.28" r="5.55" fill="#2ca02c"/>
<circle cx="962.62" cy="167.31" r="10.2" fill="#fff"/>
<circle cx="962.62" cy="167.31" r="5.55" fill="#2ca02c"/>
<circle cx="966.19" cy="175.13" r="10.2" fill="#fff"/>
<circle cx="966.19" cy="175.13" r="5.55" fill="#2ca02c"/>
<circle cx="969.76" cy="171.53" r="10.2" fill="#fff"/>
<circle cx="969.76" cy="171.53" r="5.55" fill="#2ca02c"/>
<circle cx="973.33" cy="167.77" r="10.2" fill="#fff"/>
<circle cx="973.33" cy="167.77" r="5.55" fill="#2ca02c"/>
<circle cx="976.90" cy="170.36" r="10.2" fill="#fff"/>
<circle cx="976.90" cy="170.36" r="5.55" fill="#2ca02c"/>
<circle cx="980.46" cy="160.39" r="10.2" fill="#fff"/>
<circle cx="980.46" cy="160.39" r="5.55" fill="#2ca02c"/>
<circle cx="984.03" cy="173.32" r="10.2" fill="#fff"/>
<circle cx="984.03" cy="173.32" r="5.55" fill="#2ca02c"/>
<circle cx="987.60" cy="155.49" r="10.2" fill="#fff"/>
<circle cx="987.60" cy="155.49" r="5.55" fill="#2ca02c"/>
<circle cx="991.17" cy="175.29" r="10.2" fill="#fff"/>
<circle cx="991.17" cy="175.29" r="5.55" fill="#2ca02c"/>
<circle cx="994.74" cy="172.12" r="10.2" fill="#fff"/>
<circle cx="994.74" cy="172.12" r="5.55" fill="#2ca02c"/>
<circle cx="998.30" cy="170.41" r="10.2" fill="#fff"/>
<circle cx="998.30" cy="170.41" r="5.55" fill="#2ca02c"/>
<circle cx="1001.87" cy="163.43" r="10.2" fill="#fff"/>
<circle cx="1001.87" cy="163.43" r="5.55" fill="#2ca02c"/>
<circle cx="1005.44" cy="164.38" r="10.2" fill="#fff"/>
<circle cx="1005.44" cy="164.38" r="5.55" fill="#2ca02c"/>
<circle cx="1009.01" cy="170.36" r="10.2" fill="#fff"/>
<circle cx="1009.01" cy="170.36" r="5.55" fill="#2ca02c"/>
<circle cx="1012.58" cy="151.57" r="10.2" fill="#fff"/>
<circle cx="1012.58" cy="151.57" r="5.55" fill="#2ca02c"/>
<circle cx="1016.14" cy="179.44" r="10.2" fill="#fff"/>
<circle cx="1016.14" cy="179.44" r="5.55" fill="#2ca02c"/>
<circle cx="1019.71" cy="169.70" r="10.2" fill="#fff"/>
<circle cx="1019.71" cy="169.70" r="5.55" fill="#2ca02c"/>
<circle cx="1023.28" cy="173.45" r="10.2" fill="#fff"/>
<circle cx="1023.28" cy="173.45" r="5.55" fill="#2ca02c"/>
<circle cx="1026.85" cy="172.54" r="10.2" fill="#fff"/>
<circle cx="1026.85" cy="172.54" r="5.55" fill="#2ca02c"/>
<circle cx="1030.42" cy="169.58" r="10.2" fill="#fff"/>
<circle cx="1030.42" cy="169.58" r="5.55" fill="#2ca02c"/>
<circle cx="1033.98" cy="158.53" r="10.2" fill="#fff"/>
<circle cx="1033.98" cy="158.53" r="5.55" fill="#2ca02c"/>
<circle cx="1037.55" cy="177.51" r="10.2" fill="#fff"/>
<circle cx="1037.55" cy="177.51" r="5.55" fill="#2ca02c"/>
<circle cx="1041.12" cy="161.46" r="10.2" fill="#fff"/>
<circle cx="1041.12" cy="161.46" r="5.55" fill="#2ca02c"/>
<circle cx="1044.69" cy="168.94" r="10.2" fill="#fff"/>
<circle cx="1044.69" cy="168.94" r="5.55" fill="#2ca02c"/>
<circle cx="1048.26" cy="172.70" r="10.2" fill="#fff"/>
<circle cx="1048.26" cy="172.70" r="5.55" fill="#2ca02c"/>
<circle cx="1051.82" cy="157.45" r="10.2" fill="#fff"/>
<circle cx="1051.82" cy="157.45" r="5.55" fill="#2ca02c"/>
<circle cx="1055.39" cy="170.58" r="10.2" fill="#fff"/>
<circle cx="1055.39" cy="170.58" r="5.55" fill="#2ca02c"/>
<circle cx="1058.96" cy="162.48" r="10.2" fill="#fff"/>
<circle cx="1058.96" cy="162.48" r="5.55" fill="#2ca02c"/>
<circle cx="1062.53" cy="178.60" r="10.2" fill="#fff"/>
<circle cx="1062.53" cy="178.60" r="5.55" fill="#2ca02c"/>
<circle cx="1066.10" cy="158.53" r="10.2" fill="#fff"/>
<circle cx="1066.10" cy="158.53" r="5.55" fill="#2ca02c"/>
<circle cx="1069.66" cy="167.61" r="10.2" fill="#fff"/>
<circle cx="1069.66" cy="167.61" r="5.55" fill="#2ca02c"/>
<circle cx="1073.23" cy="168.44" r="10.2" fill="#fff"/>
<circle cx="1073.23" cy="168.44" r="5.55" fill="#2ca02c"/>
<rect x="962" y="65.5" width="195" height="58.5" fill="#fff"/>
<path d="M1097 74.1H1146.3" stroke="#0060ad" stroke-width="2.1" fill="none"/>
<circle cx="1121.5" cy="74.1" r="9.8" fill="#fff"/><circle cx="1121.5" cy="74.1" r="5.45" fill="#0060ad"/>
<text class="tx" transform="scale(0.9,1)" x="1174.38 1185.07 1197.11" y="79.90" font-size="16.90" fill="#000">TCP</text>
<path d="M1097 93.3H1146.3" stroke="#ff7f0e" stroke-width="2.1" fill="none"/>
<circle cx="1121.5" cy="93.3" r="9.8" fill="#fff"/><circle cx="1121.5" cy="93.3" r="5.45" fill="#ff7f0e"/>
<text class="tx" transform="scale(0.930637,1)" x="1132.32 1145.24 1157.52" y="99.10" font-size="16.90" fill="#000">UDP</text>
<path d="M1097 112.4H1146.3" stroke="#2ca02c" stroke-width="2.1" fill="none"/>
<circle cx="1121.5" cy="112.4" r="9.8" fill="#fff"/><circle cx="1121.5" cy="112.4" r="5.45" fill="#2ca02c"/>
<text class="tx" transform="scale(0.978592,1)" x="989.23 993.29 1004.11 1009.44 1016.38 1021.85 1031.61 1042.72 1053.54 1058.75 1064.63 1070.14 1082.43 1094.13 1105.08" y="118.20" font-size="16.90" fill="#000">IP (!TCP  !UDP)</text>
<path d="M95.5 57V838.5H1166" fill="none" stroke="#000" stroke-width="1"/>
<path d="M95 57.5H104M1157.5 57.5H1166M1165.5 57V65M1165.5 839V830" fill="none" stroke="#000" stroke-width="1"/>
<text class="tx" transform="scale(1.06859,1)" x="71.21" y="844.20" font-size="16.90" fill="#000">0</text>
<text class="tx" transform="scale(1.06859,1)" x="52.14 61.67 71.21" y="747.20" font-size="16.90" fill="#000">200</text>
<text class="tx" transform="scale(1.06859,1)" x="52.14 61.67 71.21" y="649.20" font-size="16.90" fill="#000">400</text>
<text class="tx" transform="scale(1.06859,1)" x="52.14 61.67 71.21" y="551.20" font-size="16.90" fill="#000">600</text>
<text class="tx" transform="scale(1.06859,1)" x="52.14 61.67 71.21" y="454.20" font-size="16.90" fill="#000">800</text>
<text class="tx" transform="scale(1.06859,1)" x="42.60 52.14 61.67 71.21" y="356.20" font-size="16.90" fill="#000">1000</text>
<text class="tx" transform="scale(1.06859,1)" x="42.60 52.14 61.67 71.21" y="259.20" font-size="16.90" fill="#000">1200</text>
<text class="tx" transform="scale(1.06859,1)" x="42.60 52.14 61.67 71.21" y="161.20" font-size="16.90" fill="#000">1400</text>
<text class="tx" transform="scale(1.06859,1)" x="42.60 52.14 61.67 71.21" y="63.20" font-size="16.90" fill="#000">1600</text>
<text class="tx" transform="scale(1.06859,1)" x="87.30" y="864.20" font-size="16.90" fill="#000">0</text>
<text class="tx" transform="scale(1.06859,1)" x="250.04 259.57" y="864.20" font-size="16.90" fill="#000">50</text>
<text class="tx" transform="scale(1.06859,1)" x="411.85 421.38 430.92" y="864.20" font-size="16.90" fill="#000">100</text>
<text class="tx" transform="scale(1.06859,1)" x="578.42 587.96 597.49" y="864.20" font-size="16.90" fill="#000">150</text>
<text class="tx" transform="scale(1.06859,1)" x="745.93 755.47 765.00" y="864.20" font-size="16.90" fill="#000">200</text>
<text class="tx" transform="scale(1.06859,1)" x="912.51 922.04 931.58" y="864.20" font-size="16.90" fill="#000">250</text>
<text class="tx" transform="scale(1.06859,1)" x="1079.09 1088.62 1098.15" y="864.20" font-size="16.90" fill="#000">300</text>
<text class="tx" transform="scale(1.04392,1)" x="572.08 582.18 586.62 601.14 610.65 615.61 621.19 629.59" y="891.60" font-size="16.90" fill="#000">Time (s)</text>
<text class="tx" transform="translate(24.30,478.05) rotate(-90) scale(0.995921,1)" x="-0.88 9.63 19.26 28.15 37.08 47.36 52.68" y="0.00" font-size="16.90" fill="#000">Packets</text>
<text class="tx" transform="scale(1.07274,1)" x="-3.01 1.49 10.16 15.28 24.77 30.68 40.27 44.76 52.74 61.87 71.37 77.10 85.43 95.03 99.16 103.13 112.56 122.54 127.96 132.67 140.84 150.33 156.22 165.65 174.70 182.96 188.39 193.84 197.66 207.17 212.92 222.21 231.78 236.83 240.79 249.85 257.83 266.96 275.44 279.93 288.61 293.52 301.78 306.51 315.95 324.60 333.89 343.40 349.46 353.62 367.77 377.05 387.03" y="34.70" font-size="16.90" fill="#000">/stor0/searchlight/corpus/tiered/ipsec/sts/experiment</text>
<text class="tx" transform="scale(1.06334,1)" x="395.82" y="39.50" font-size="13.52" fill="#000">3</text>
<text class="tx" transform="scale(1.09405,1)" x="392.18 396.77 406.47 411.59 420.85" y="34.70" font-size="16.90" fill="#000">/eth1</text>
<text class="tx" transform="scale(1.12,1)" x="420.31" y="39.50" font-size="13.52" fill="#000">i</text>
<text class="tx" transform="scale(1.0604,1)" x="447.26 457.33 462.55 472.15 478.37 483.28 492.49 500.78 510.29 515.10 524.64 533.40 542.77 548.21 556.47 562.09 571.67 581.24 590.63 596.24 605.62 614.62 622.84 632.21 637.81 647.88 653.78 659.15 668.71 678.10 686.65 691.62 701.20 710.77 720.35 729.92 739.50 749.07 758.65 768.22 777.80 787.18 792.62 801.07 810.61 815.56 819.61 828.77 836.85 846.08 854.13 862.89 867.88 876.08 881.42 886.93 890.83 900.43 906.27 915.67 925.18 930.00 939.54 948.92 958.50 964.31 973.31 981.36 986.82 996.36 1005.12 1014.49 1019.93 1028.19 1033.81 1043.39 1052.96 1062.35 1067.96 1077.34 1086.34 1094.56 1103.93 1109.53 1119.59 1125.50 1130.87 1140.43 1149.82" y="34.70" font-size="16.90" fill="#000">nterface/exp-c-720-dash-http1c/1648617895-c1.ipsecsts.tiered.pharos-exp-c-720-dash-http1c</text>
</svg></body></html>
